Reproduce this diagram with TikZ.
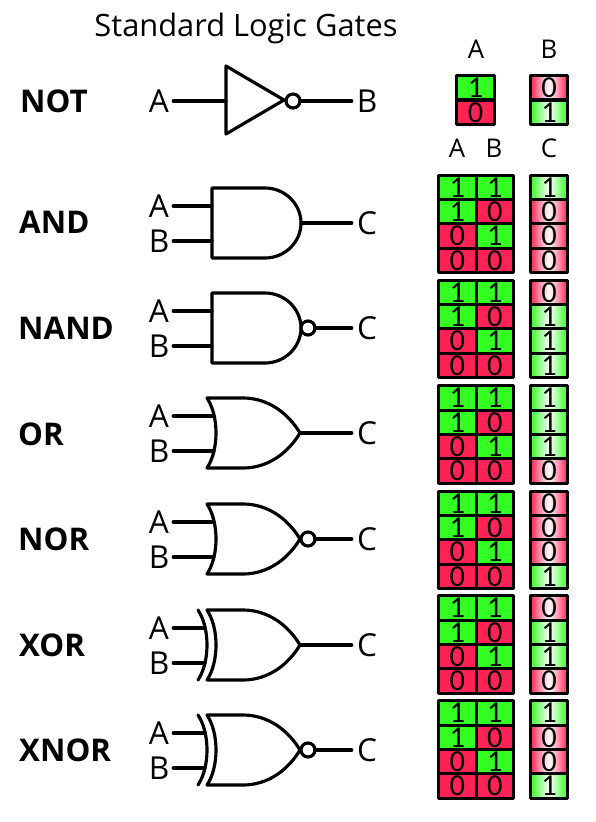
\documentclass[tikz,border=0pt]{standalone}
\usepackage{fontspec}
\setmainfont{Open Sans}
\newfontfamily\digitfont{Carlito}
\definecolor{tabgreen}{HTML}{33FF22}
\definecolor{tabred}{HTML}{FF2255}
\tikzset{
	wire/.style={line width=0.095cm, line cap=round, line join=round},
	bubble/.style={circle, draw, wire, fill=white, minimum size=0.42cm, inner sep=0pt, outer sep=0pt},
	gatename/.style={anchor=west, inner sep=0pt, font=\fontsize{26.7}{30}\selectfont\bfseries},
	pinlabel/.style={minimum width=0.84cm, inner sep=0pt, font=\fontsize{27}{30}\selectfont},
	outlabel/.style={pinlabel, minimum width=0.9cm},
	headlabel/.style={inner sep=0pt, font=\fontsize{22}{24}\selectfont},
	cell/.style={draw=black, line width=0.09cm, line join=round, minimum width=1.125cm, minimum height=0.73cm, inner sep=0pt, font=\digitfont\fontsize{26}{26}\selectfont},
	cell0/.style={cell, fill=tabred},
	cell1/.style={cell, fill=tabgreen},
	outcell0/.style={cell, minimum width=1.11cm, left color=tabred, right color=tabred, middle color=white},
	outcell1/.style={cell, minimum width=1.11cm, left color=tabgreen, right color=tabgreen, middle color=white},
	andgate/.pic={
		\draw[wire] (212,-35) -- (265,-35) .. controls (285,-35) and (301,-19) .. (301,0)
			.. controls (301,19) and (285,35) .. (265,35) -- (212,35) -- cycle;
		\coordinate (-out) at (301,0);
	},
	orgate/.pic={
		\draw[wire] (207,-35) -- (243,-35) .. controls (268,-35) and (288,-20) .. (300,0)
			.. controls (288,20) and (268,35) .. (243,35) -- (207,35)
			.. controls (219,17) and (219,-17) .. (207,-35) -- cycle;
		\coordinate (-out) at (300,0);
	},
	xorbar/.pic={
		\draw[wire] (198,-35) .. controls (210,-17) and (210,17) .. (198,35);
	},
}
% labels and wires of a two input gate: name, row y, x of the input pins
\newcommand{\inputpins}[3]{
	\node[pinlabel] (#1A) at (159,#2-17) {A};
	\node[pinlabel] (#1B) at (159,#2+18) {B};
	\coordinate (#1pa) at (#3,#2-17);
	\coordinate (#1pb) at (#3,#2+18);
	\draw[wire] (#1A) -- (#1pa);
	\draw[wire] (#1B) -- (#1pb);
	\node[outlabel] (#1C) at (367,#2) {C};
}
% truth table: name, row y, the four outputs
\newcommand{\truthtable}[6]{
	\foreach \inA/\inB/\outC [count=\r] in {1/1/#3,1/0/#4,0/1/#5,0/0/#6} {
		\node[cell\inA] (#1a\r) at (457.25,#2-35.4+24.25*\r-24.25) {\inA};
		\node[cell\inB] (#1b\r) at (494.75,#2-35.4+24.25*\r-24.25) {\inB};
		\node[outcell\outC] (#1c\r) at (549,#2-35.4+24.25*\r-24.25) {\outC};
	}
}
\begin{document}
\begin{tikzpicture}[x=0.03cm, y=-0.03cm]
	\useasboundingbox (0,0) rectangle (596,822);
	
	% Title
	\node[inner sep=0pt, font=\fontsize{26.3}{28}\selectfont] (title) at (246,29) {Standard Logic Gates};
	
	% Table heads
	\node[headlabel] (headA) at (476,49) {A};
	\node[headlabel] (headB) at (549,49) {B};
	\node[headlabel] (headAA) at (457,148) {A};
	\node[headlabel] (headBB) at (494,148) {B};
	\node[headlabel] (headC) at (549,148) {C};
	
	% NOT
	\node[gatename] (notname) at (20,101) {NOT};
	\node[pinlabel] (notA) at (159,101) {A};
	\node[outlabel] (notB) at (367,101) {B};
	\draw[wire] (226,66) -- (284,100) -- (226,134) -- cycle;
	\coordinate (notin) at (226,101);
	\node[bubble] (notbub) at (293,101) {};
	\draw[wire] (notA) -- (notin);
	\draw[wire] (notbub) -- (notB);
	\node[cell1, minimum width=1.14cm] (nota1) at (475.5,87.75) {1};
	\node[cell0, minimum width=1.14cm] (nota2) at (475.5,112.25) {0};
	\node[outcell0] (notb1) at (549,87.75) {0};
	\node[outcell1] (notb2) at (549,112.25) {1};
	
	% AND
	\node[gatename] (andname) at (19,222) {AND};
	\pic (andg) at (0,223) {andgate};
	\inputpins{and}{223}{212}
	\draw[wire] (andg-out) -- (andC);
	\truthtable{and}{223}{1}{0}{0}{0}
	
	% NAND
	\node[gatename] (nandname) at (18,328) {NAND};
	\pic (nandg) at (0,328) {andgate};
	\inputpins{nand}{328}{212}
	\node[bubble] (nandbub) at (308,328) {};
	\draw[wire] (nandbub) -- (nandC);
	\truthtable{nand}{328}{0}{1}{1}{1}
	
	% OR
	\node[gatename] (orname) at (18,434) {OR};
	\pic (org) at (0,433) {orgate};
	\inputpins{or}{433}{214}
	\draw[wire] (org-out) -- (orC);
	\truthtable{or}{433.5}{1}{1}{1}{0}
	
	% NOR
	\node[gatename] (norname) at (18,539) {NOR};
	\pic (norg) at (0,539) {orgate};
	\inputpins{nor}{539}{214}
	\node[bubble] (norbub) at (308,539) {};
	\draw[wire] (norbub) -- (norC);
	\truthtable{nor}{539}{0}{0}{0}{1}
	
	% XOR
	\node[gatename] (xorname) at (19,645) {XOR};
	\pic (xorg) at (0,645) {orgate};
	\pic at (0,645) {xorbar};
	\inputpins{xor}{645}{205}
	\draw[wire] (xorg-out) -- (xorC);
	\truthtable{xor}{643.5}{0}{1}{1}{0}
	
	% XNOR
	\node[gatename] (xnorname) at (19,750) {XNOR};
	\pic (xnorg) at (0,750) {orgate};
	\pic at (0,750) {xorbar};
	\inputpins{xnor}{750}{205}
	\node[bubble] (xnorbub) at (308,750) {};
	\draw[wire] (xnorbub) -- (xnorC);
	\truthtable{xnor}{748.5}{1}{0}{0}{1}
	
\end{tikzpicture}
\end{document}
